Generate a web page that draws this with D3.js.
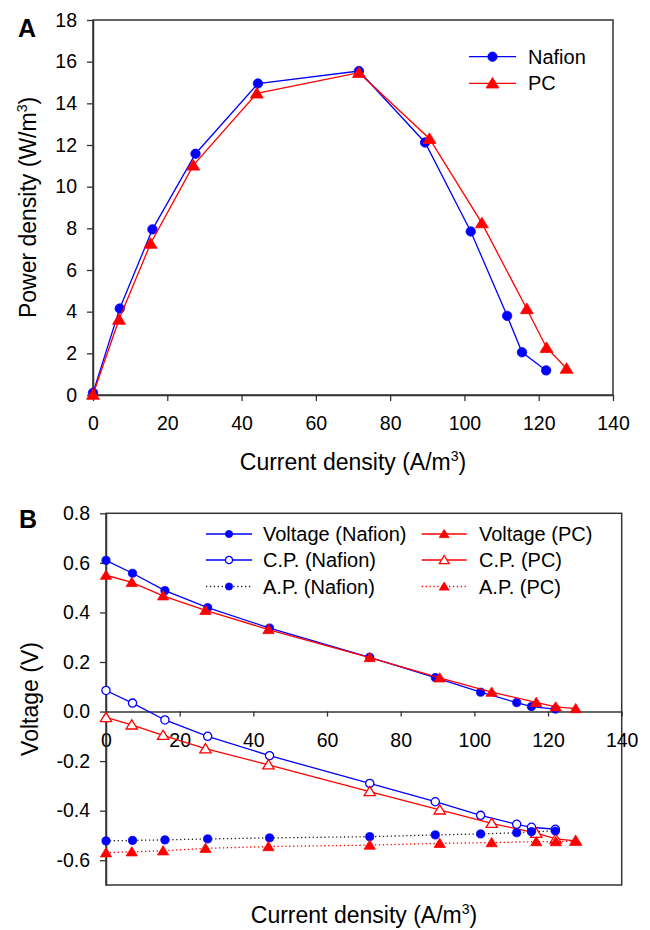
<!DOCTYPE html>
<html>
<head>
<meta charset="utf-8">
<script src="https://cdn.jsdelivr.net/npm/d3@7"></script>
<style>
  body { margin: 0; background: #fff; }
  svg { display: block; font-family: "Liberation Sans", Arial, sans-serif; }
</style>
</head>
<body>
<div id="chart"></div>
<script>
// current density (A/m3), shared by both panels
const currentNafion = [0, 7.2, 16.0, 27.6, 44.4, 71.6, 89.4, 101.7, 111.5, 115.5, 122.0];
const currentPC     = [0, 7.0, 15.5, 27.0, 44.1, 71.6, 90.6, 104.7, 116.8, 122.1, 127.5];

// panel A: power density (W/m3)
const powerNafion = [0.1, 4.15, 7.95, 11.58, 14.95, 15.55, 12.12, 7.85, 3.8, 2.05, 1.18];
const powerPC     = [0.02, 3.62, 7.27, 11.02, 14.48, 15.47, 12.3, 8.25, 4.13, 2.27, 1.27];

// panel B: voltage, cathode and anode potentials (V)
const voltNafion = [0.61, 0.558, 0.488, 0.419, 0.337, 0.219, 0.137, 0.078, 0.036, 0.02, 0.01];
const voltPC     = [0.55, 0.521, 0.467, 0.408, 0.331, 0.218, 0.136, 0.078, 0.037, 0.019, 0.012];
const cpNafion   = [0.085, 0.034, -0.034, -0.1, -0.178, -0.29, -0.364, -0.419, -0.455, -0.467, -0.475];
const cpPC       = [-0.024, -0.054, -0.096, -0.15, -0.215, -0.323, -0.397, -0.451, -0.491, -0.514, -0.522];
const apNafion   = [-0.522, -0.52, -0.518, -0.514, -0.51, -0.505, -0.498, -0.494, -0.489, -0.485, -0.482];
const apPC       = [-0.57, -0.566, -0.562, -0.552, -0.545, -0.539, -0.532, -0.529, -0.525, -0.525, -0.522];

const xTicks  = [0, 20, 40, 60, 80, 100, 120, 140];
const yTicksA = [0, 2, 4, 6, 8, 10, 12, 14, 16, 18];
const yTicksB = [-0.6, -0.4, -0.2, 0.0, 0.2, 0.4, 0.6, 0.8];

const BLUE = "#0000ff", RED = "#ff0000", AXIS = "#333";
const zip = (xs, ys) => xs.map((x, i) => [x, ys[i]]);

const svg = d3.select("#chart").append("svg")
  .attr("width", 650).attr("height", 930);

// ---------- helpers ----------
function marker(g, shape, open, color, r) {
  if (shape === "circle") {
    return g.append("circle").attr("r", r)
      .attr("fill", open ? "#fff" : color)
      .attr("stroke", color).attr("stroke-width", open ? 1.3 : 0.8);
  }
  const s = r * 1.25;
  return g.append("path")
    .attr("d", `M0,${-s} L${s * 1.1},${s * 0.8} L${-s * 1.1},${s * 0.8} Z`)
    .attr("fill", open ? "#fff" : color)
    .attr("stroke", color).attr("stroke-width", open ? 1.3 : 0.8);
}

function drawSeries(g, x, y, pts, opt) {
  const line = d3.line().x(d => x(d[0])).y(d => y(d[1]));
  g.append("path").datum(pts)
    .attr("d", line).attr("fill", "none")
    .attr("stroke", opt.lineColor || opt.color)
    .attr("stroke-width", 1.3)
    .attr("stroke-dasharray", opt.dotted ? "1.3,2.6" : null);
  pts.forEach(p => {
    const m = g.append("g").attr("transform", `translate(${x(p[0])},${y(p[1])})`);
    marker(m, opt.shape, opt.open, opt.color, opt.r);
  });
}

function legendItem(g, x0, x1, tx, yy, opt, label) {
  g.append("line").attr("x1", x0).attr("x2", x1).attr("y1", yy).attr("y2", yy)
    .attr("stroke", opt.lineColor || opt.color).attr("stroke-width", 1.3)
    .attr("stroke-dasharray", opt.dotted ? "1.3,2.6" : null);
  const m = g.append("g").attr("transform", `translate(${(x0 + x1) / 2},${yy})`);
  marker(m, opt.shape, opt.open, opt.color, opt.r);
  g.append("text").attr("x", tx).attr("y", yy).attr("dy", "0.35em")
    .attr("font-size", 20).attr("fill", "#000").text(label);
}

function styleAxis(sel) {
  sel.select(".domain").attr("stroke", AXIS).attr("stroke-width", 1.5);
  sel.selectAll(".tick line").attr("stroke", AXIS).attr("stroke-width", 1.3);
  sel.selectAll(".tick text").attr("font-size", 19.5).attr("fill", "#000")
    .attr("font-family", "Liberation Sans, Arial, sans-serif");
}

function superTitle(t, main, tail) {
  t.append("tspan").text(main);
  t.append("tspan").attr("font-size", 14).attr("dy", -9).text("3");
  t.append("tspan").attr("dy", 9).text(tail);
}

// ==================================================
// Panel A
// ==================================================
const xA = d3.scaleLinear().domain([0, 140]).range([93, 613]);
const yA = d3.scaleLinear().domain([0, 18]).range([395, 20]);
const gA = svg.append("g");

gA.append("rect").attr("x", 93).attr("y", 20).attr("width", 520).attr("height", 375)
  .attr("fill", "none").attr("stroke", AXIS).attr("stroke-width", 1.5);

gA.append("g").attr("transform", `translate(0,${yA(0)})`)
  .call(d3.axisBottom(xA).tickValues(xTicks).tickSize(6).tickSizeOuter(0).tickPadding(15))
  .call(styleAxis);
gA.append("g").attr("transform", `translate(${xA(0)},0)`)
  .call(d3.axisLeft(yA).tickValues(yTicksA).tickSize(6).tickSizeOuter(0).tickPadding(10))
  .call(styleAxis);

const nafA = { shape: "circle", color: BLUE, r: 4.7 };
const pcA  = { shape: "tri", color: RED, r: 4.7 };
drawSeries(gA, xA, yA, zip(currentNafion, powerNafion), nafA);
drawSeries(gA, xA, yA, zip(currentPC, powerPC), pcA);

legendItem(gA, 469, 516, 528, 56.7, nafA, "Nafion");
legendItem(gA, 469, 516, 528, 83.3, pcA, "PC");

superTitle(gA.append("text").attr("x", 353).attr("y", 470).attr("text-anchor", "middle")
  .attr("font-size", 23), "Current density (A/m", ")");
superTitle(gA.append("text").attr("transform", "translate(35.5,207.5) rotate(-90)")
  .attr("text-anchor", "middle").attr("font-size", 23), "Power density (W/m", ")");

svg.append("text").attr("x", 18).attr("y", 37).attr("font-size", 25)
  .attr("font-weight", "bold").text("A");

// ==================================================
// Panel B
// ==================================================
const xB = d3.scaleLinear().domain([0, 140]).range([106, 621.7]);
const yB = d3.scaleLinear().domain([-0.7, 0.8]).range([885, 513.3]);
const gB = svg.append("g");

gB.append("rect").attr("x", 106).attr("y", 513.3).attr("width", 515.7).attr("height", 371.7)
  .attr("fill", "none").attr("stroke", AXIS).attr("stroke-width", 1.5);

gB.append("g").attr("transform", `translate(0,${yB(0)})`)
  .call(d3.axisBottom(xB).tickValues(xTicks).tickSize(5).tickSizeOuter(0).tickPadding(17))
  .call(styleAxis);
gB.append("g").attr("transform", `translate(${xB(0)},0)`)
  .call(d3.axisLeft(yB).tickValues(yTicksB).tickFormat(d => d.toFixed(1))
    .tickSize(6).tickSizeOuter(0).tickPadding(10))
  .call(styleAxis);

const vNaf = { shape: "circle", color: BLUE, r: 4.1 };
const vPC  = { shape: "tri", color: RED, r: 4.1 };
const cNaf = { shape: "circle", color: BLUE, r: 4.1, open: true };
const cPC  = { shape: "tri", color: RED, r: 4.1, open: true };
const aNaf = { shape: "circle", color: BLUE, r: 4.1, dotted: true, lineColor: "#222" };
const aPC  = { shape: "tri", color: RED, r: 4.1, dotted: true };

drawSeries(gB, xB, yB, zip(currentNafion, voltNafion), vNaf);
drawSeries(gB, xB, yB, zip(currentPC, voltPC), vPC);
drawSeries(gB, xB, yB, zip(currentNafion, cpNafion), cNaf);
drawSeries(gB, xB, yB, zip(currentPC, cpPC), cPC);
drawSeries(gB, xB, yB, zip(currentNafion, apNafion), aNaf);
drawSeries(gB, xB, yB, zip(currentPC, apPC), aPC);

const legRows = [534, 560, 586.5];
legendItem(gB, 206, 252, 263, legRows[0], { ...vNaf, r: 3.6 }, "Voltage (Nafion)");
legendItem(gB, 206, 252, 263, legRows[1], { ...cNaf, r: 3.6 }, "C.P. (Nafion)");
legendItem(gB, 206, 252, 263, legRows[2], { ...aNaf, r: 3.6 }, "A.P. (Nafion)");
legendItem(gB, 421.7, 466.7, 479, legRows[0], { ...vPC, r: 3.6 }, "Voltage (PC)");
legendItem(gB, 421.7, 466.7, 479, legRows[1], { ...cPC, r: 3.6 }, "C.P. (PC)");
legendItem(gB, 421.7, 466.7, 479, legRows[2], { ...aPC, r: 3.6 }, "A.P. (PC)");

// kept just inside the bottom edge so the descenders are not clipped
superTitle(gB.append("text").attr("x", 364).attr("y", 923).attr("text-anchor", "middle")
  .attr("font-size", 23), "Current density (A/m", ")");
gB.append("text").attr("transform", "translate(37.5,699) rotate(-90)")
  .attr("text-anchor", "middle").attr("font-size", 23).text("Voltage (V)");

svg.append("text").attr("x", 19).attr("y", 528).attr("font-size", 25)
  .attr("font-weight", "bold").text("B");
</script>
</body>
</html>
